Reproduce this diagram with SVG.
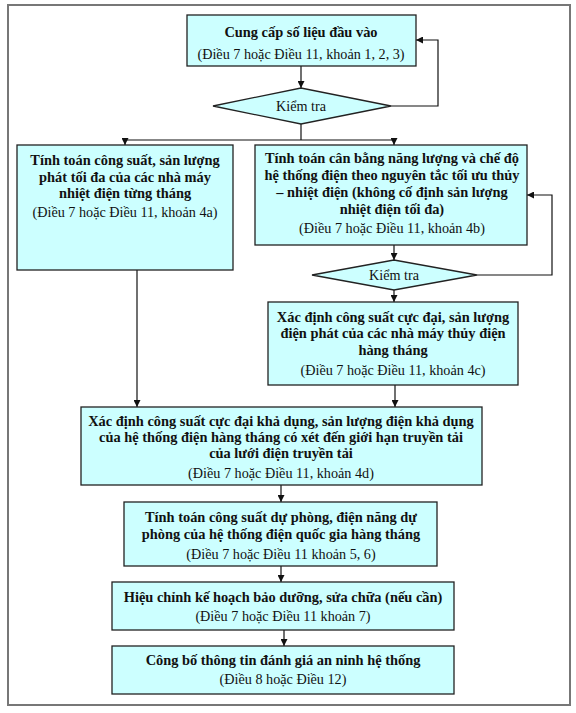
<svg xmlns="http://www.w3.org/2000/svg" width="576" height="713" viewBox="0 0 576 713">
<style>
.box{fill:#ccffff;stroke:#222;stroke-width:1.3}
.frame{fill:#fff;stroke:#777;stroke-width:2}
.b{font-family:"Liberation Serif",serif;font-size:14.4px;font-weight:bold;fill:#111;text-anchor:middle}
.r{font-family:"Liberation Serif",serif;font-size:14.2px;fill:#111;text-anchor:middle}
.c{fill:none;stroke:#111;stroke-width:1.2}
</style>
<defs>
<marker id="ah" viewBox="0 0 10 10" refX="10" refY="5" markerWidth="7" markerHeight="7" markerUnits="userSpaceOnUse" orient="auto">
<path d="M0,0 L10,5 L0,10 z" fill="#111"/>
</marker>
</defs>
<rect class="frame" x="8" y="5" width="562" height="700"/>
<g id="connectors">
<path class="c" d="M301,66 V88" marker-end="url(#ah)"/>
<path class="c" d="M391,106 H438 V40 H416" marker-end="url(#ah)"/>
<path class="c" d="M301,124 V140"/>
<path class="c" d="M125,140 H394"/>
<path class="c" d="M125,140 V145" marker-end="url(#ah)"/>
<path class="c" d="M394,140 V145" marker-end="url(#ah)"/>
<path class="c" d="M137,270 V407" marker-end="url(#ah)"/>
<path class="c" d="M394,245 V260" marker-end="url(#ah)"/>
<path class="c" d="M477,275 H552 V195 H527" marker-end="url(#ah)"/>
<path class="c" d="M394,290 V302" marker-end="url(#ah)"/>
<path class="c" d="M395,385 V407" marker-end="url(#ah)"/>
<path class="c" d="M281,485 V502" marker-end="url(#ah)"/>
<path class="c" d="M281,566 V582" marker-end="url(#ah)"/>
<path class="c" d="M284,630 V646" marker-end="url(#ah)"/>
</g>
<g id="n1">
<rect class="box" x="187" y="15" width="229" height="51"/>
<text class="b" x="301" y="36.5">Cung cấp số liệu đầu vào</text>
<text class="r" x="301" y="58.5">(Điều 7 hoặc Điều 11, khoản 1, 2, 3)</text>
</g>
<g id="d1">
<polygon class="box" points="213,106 301,88 391,106 301,124"/>
<text class="r" x="301" y="111">Kiểm tra</text>
</g>
<g id="n2">
<rect class="box" x="17" y="145" width="216" height="125"/>
<text class="b" x="125" y="165">Tính toán công suất, sản lượng</text>
<text class="b" x="125" y="182">phát tối đa của các nhà máy</text>
<text class="b" x="125" y="198">nhiệt điện từng tháng</text>
<text class="r" x="125" y="217">(Điều 7 hoặc Điều 11, khoản 4a)</text>
</g>
<g id="n3">
<rect class="box" x="255" y="145" width="272" height="100"/>
<text class="b" x="392" y="163">Tính toán cân bằng năng lượng và chế độ</text>
<text class="b" x="392" y="180">hệ thống điện theo nguyên tắc tối ưu thủy</text>
<text class="b" x="392" y="197">– nhiệt điện (không cố định sản lượng</text>
<text class="b" x="392" y="214">nhiệt điện tối đa)</text>
<text class="r" x="392" y="233">(Điều 7 hoặc Điều 11, khoản 4b)</text>
</g>
<g id="d2">
<polygon class="box" points="312,275 394,260 477,275 394,290"/>
<text class="r" x="394" y="280">Kiểm tra</text>
</g>
<g id="n4">
<rect class="box" x="268" y="302" width="250" height="83"/>
<text class="b" x="393" y="322">Xác định công suất cực đại, sản lượng</text>
<text class="b" x="393" y="338">điện phát của các nhà máy thủy điện</text>
<text class="b" x="393" y="355">hàng tháng</text>
<text class="r" x="393" y="375">(Điều 7 hoặc Điều 11, khoản 4c)</text>
</g>
<g id="n5">
<rect class="box" x="81" y="407" width="401" height="78"/>
<text class="b" x="281" y="426">Xác định công suất cực đại khả dụng, sản lượng điện khả dụng</text>
<text class="b" x="281" y="442">của hệ thống điện hàng tháng có xét đến giới hạn truyền tải</text>
<text class="b" x="281" y="458">của lưới điện truyền tải</text>
<text class="r" x="281" y="478">(Điều 7 hoặc Điều 11, khoản 4d)</text>
</g>
<g id="n6">
<rect class="box" x="124" y="502" width="313" height="64"/>
<text class="b" x="281" y="522">Tính toán công suất dự phòng, điện năng dự</text>
<text class="b" x="281" y="539">phòng của hệ thống điện quốc gia hàng tháng</text>
<text class="r" x="281" y="559">(Điều 7 hoặc Điều 11 khoản 5, 6)</text>
</g>
<g id="n7">
<rect class="box" x="112" y="582" width="342" height="48"/>
<text class="b" x="283" y="602">Hiệu chỉnh kế hoạch bảo dưỡng, sửa chữa (nếu cần)</text>
<text class="r" x="283" y="621">(Điều 7 hoặc Điều 11 khoản 7)</text>
</g>
<g id="n8">
<rect class="box" x="112" y="646" width="342" height="48"/>
<text class="b" x="283" y="665">Công bố thông tin đánh giá an ninh hệ thống</text>
<text class="r" x="283" y="684">(Điều 8 hoặc Điều 12)</text>
</g>
</svg>
